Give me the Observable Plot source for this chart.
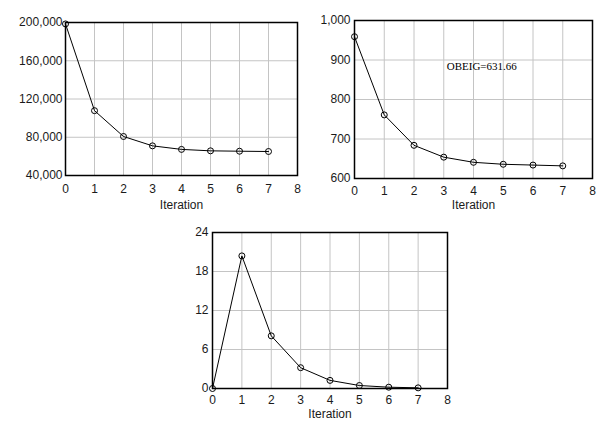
<!DOCTYPE html>
<html>
<head>
<meta charset="utf-8">
<script src="https://cdn.jsdelivr.net/npm/d3@7"></script>
<script src="https://cdn.jsdelivr.net/npm/@observablehq/plot@0.6"></script>
<style>
  html, body { margin: 0; padding: 0; background: #fff; }
  #wrap { position: relative; width: 612px; height: 427px; overflow: hidden; background: #fff; }
  #wrap > div { position: absolute; }
  svg { font-family: "Liberation Sans", Arial, sans-serif; }
</style>
</head>
<body>
<div id="wrap">
  <div id="c1" style="left:0px; top:0px;"></div>
  <div id="c2" style="left:306px; top:0px;"></div>
  <div id="c3" style="left:150px; top:215px;"></div>
</div>
<script>
// ---- data ----
const iterations = [0, 1, 2, 3, 4, 5, 6, 7];
const objectiveValues = [198500, 107800, 80800, 71000, 67300, 65800, 65400, 65100];
const obeigValues = [959, 761, 684, 654, 641, 636, 634, 632];
const changeValues = [0, 20.4, 8.1, 3.2, 1.25, 0.46, 0.2, 0.1];
const xTicks = [0, 1, 2, 3, 4, 5, 6, 7, 8];
const yTicks1 = [40000, 80000, 120000, 160000, 200000];
const yTicks2 = [600, 700, 800, 900, 1000];
const yTicks3 = [0, 6, 12, 18, 24];
const xLabel = "Iteration";
const noteText = "OBEIG=631.66";
const noteX = 3.1;
const noteY = 883;

const gridColor = "#c4c4c4";
const textColor = "#1a1a1a";

function panel({values, yDomain, yTicks, width, height, margins, xPad, yPad, labelDy, extra = []}) {
  const data = iterations.map((it, i) => ({x: it, y: values[i]}));
  return Plot.plot({
    width, height,
    marginLeft: margins[0], marginRight: margins[1], marginTop: margins[2], marginBottom: margins[3],
    style: {fontSize: "12px", fontFamily: "'Liberation Sans', Arial, sans-serif", color: textColor, background: "#fff"},
    x: {domain: [0, 8], ticks: xTicks},
    y: {domain: yDomain, ticks: yTicks},
    marks: [
      Plot.gridX(xTicks, {stroke: gridColor, strokeOpacity: 1}),
      Plot.gridY(yTicks, {stroke: gridColor, strokeOpacity: 1}),
      Plot.axisX(xTicks, {tickSize: 0, tickPadding: xPad, label: null, fill: textColor, fontSize: 12}),
      Plot.axisY(yTicks, {tickSize: 0, tickPadding: yPad, label: null, tickFormat: d3.format(","), fill: textColor, fontSize: 12}),
      Plot.line(data, {x: "x", y: "y", stroke: "#000", strokeWidth: 1}),
      Plot.dot(data, {x: "x", y: "y", r: 3, stroke: "#000", strokeWidth: 1, fill: "none"}),
      Plot.frame({stroke: "#000", strokeWidth: 1.5}),
      Plot.text([xLabel], {text: d => d, frameAnchor: "bottom", dy: labelDy, fontSize: 12, fill: textColor}),
      ...extra
    ]
  });
}

document.getElementById("c1").appendChild(panel({
  values: objectiveValues, yDomain: [40000, 200000], yTicks: yTicks1,
  width: 306, height: 215, margins: [65, 9, 22, 40], xPad: 9, yPad: 3, labelDy: 33
}));

document.getElementById("c2").appendChild(panel({
  values: obeigValues, yDomain: [600, 1000], yTicks: yTicks2,
  width: 306, height: 215, margins: [48, 20, 20, 37], xPad: 8, yPad: 4, labelDy: 30.5,
  extra: [
    Plot.text([noteText], {text: d => d, x: () => noteX, y: () => noteY, textAnchor: "start",
      fontFamily: "'Liberation Serif', 'Times New Roman', serif", fontSize: 11, fill: "#000",
      style: "letter-spacing:-1px"})
  ]
}));

document.getElementById("c3").appendChild(panel({
  values: changeValues, yDomain: [0, 24], yTicks: yTicks3,
  width: 320, height: 212, margins: [62, 23, 17, 39], xPad: 7, yPad: 4, labelDy: 29
}));
</script>
</body>
</html>
